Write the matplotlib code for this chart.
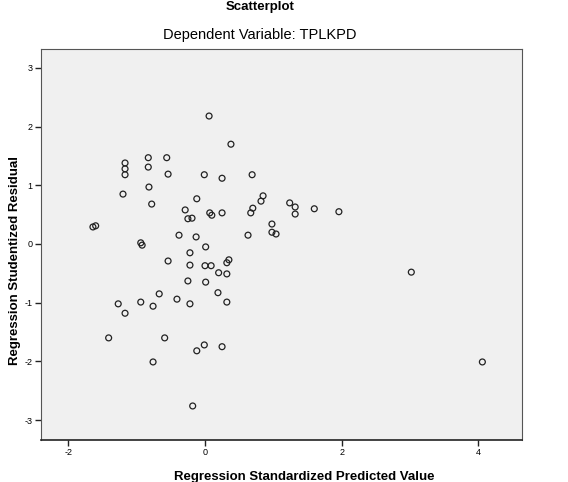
import matplotlib
matplotlib.use('Agg')
import matplotlib.pyplot as plt

plt.rcParams['font.family'] = ['Liberation Sans', 'DejaVu Sans']

# standardized predicted value (x) and studentized residual (y)
pred = [0.06, 0.38, -1.17, -1.17, -1.17, -0.83, -0.83, -0.56, -0.54, -0.01,
        0.25, 0.69, -1.20, -0.82, -0.78, -0.12, 0.85, 0.82, 0.70, 0.67,
        1.24, 1.32, 1.32, 1.60, 1.96, -0.29, -0.25, -0.19, 0.07, 0.10,
        0.25, -1.64, -1.60, -0.94, -0.92, -0.38, -0.13, 0.01, 0.63, 0.98,
        0.98, 1.04, -0.22, -0.54, -0.22, 0.00, 0.09, 0.35, 0.32, 0.20,
        0.32, -0.25, 0.01, -0.67, -0.94, -0.76, -1.27, -1.17, -0.41, -0.22,
        0.19, 0.32, -1.41, -0.59, -0.12, -0.01, 0.25, -0.76, -0.18, 3.02,
        4.06]
resid = [2.18, 1.70, 1.38, 1.28, 1.18, 1.47, 1.31, 1.47, 1.19, 1.18,
         1.12, 1.18, 0.85, 0.97, 0.68, 0.77, 0.82, 0.73, 0.61, 0.53,
         0.70, 0.63, 0.51, 0.60, 0.55, 0.58, 0.43, 0.44, 0.53, 0.49,
         0.53, 0.29, 0.31, 0.02, -0.02, 0.15, 0.12, -0.05, 0.15, 0.34,
         0.20, 0.17, -0.15, -0.29, -0.36, -0.37, -0.37, -0.27, -0.32, -0.49,
         -0.51, -0.63, -0.65, -0.85, -0.99, -1.06, -1.02, -1.18, -0.94, -1.02,
         -0.83, -0.99, -1.60, -1.60, -1.82, -1.72, -1.75, -2.01, -2.76, -0.48,
         -2.01]

x_ticks = [-2, 0, 2, 4]
y_ticks = [-3, -2, -1, 0, 1, 2, 3]

fig = plt.figure(figsize=(5.68, 4.82), dpi=100)
ax = fig.add_axes([0.0722, 0.0871, 0.8468, 0.811])
ax.set_facecolor('#f0f0f0')

ax.scatter(pred, resid, s=18, facecolors='none', edgecolors='#222222', linewidths=0.9)

ax.set_xlim(-2.40, 4.64)
ax.set_ylim(-3.34, 3.32)
ax.set_xticks(x_ticks)
ax.set_xticklabels([str(t) for t in x_ticks])
ax.set_yticks(y_ticks)
ax.set_yticklabels([str(t) for t in y_ticks])
ax.tick_params(axis='both', labelsize=6.5, length=4, width=1, color='#222222', pad=2)

for side in ['left', 'top', 'right']:
    ax.spines[side].set_color('#555555')
    ax.spines[side].set_linewidth(0.8)
ax.spines['bottom'].set_color('#222222')
ax.spines['bottom'].set_linewidth(1.2)

# axis titles placed in figure coordinates, like the SPSS output
fig.text(0.535, 0.01, 'Regression Standardized Predicted Value', ha='center', va='center',
         fontsize=9.5, fontweight='bold')
fig.text(0.026, 0.46, 'Regression Studentized Residual', ha='center', va='center',
         rotation=90, fontsize=9.5, fontweight='bold')

fig.text(0.458, 0.985, 'Scatterplot', ha='center', va='center', fontsize=9.5, fontweight='bold')
fig.text(0.458, 0.927, 'Dependent Variable: TPLKPD', ha='center', va='center', fontsize=10.5)

plt.savefig('out.png', dpi=100)
